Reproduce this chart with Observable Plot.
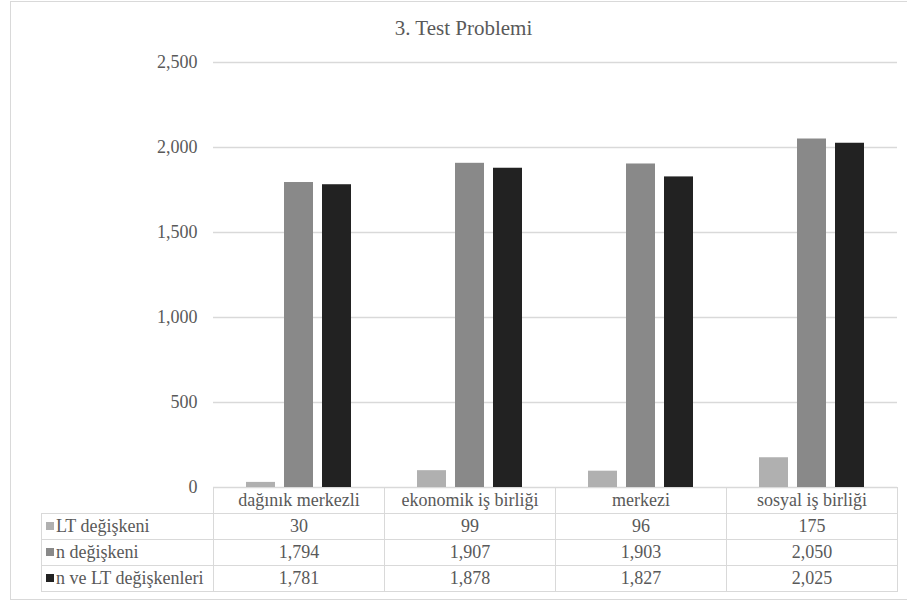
<!DOCTYPE html>
<html>
<head>
<meta charset="utf-8">
<script src="https://cdn.jsdelivr.net/npm/d3@7"></script>
<script src="https://cdn.jsdelivr.net/npm/@observablehq/plot@0.6"></script>
<style>
  html, body { margin: 0; padding: 0; background: #fff; }
  #chart {
    position: relative; width: 907px; height: 603px; overflow: hidden;
    font-family: "Liberation Serif", "Times New Roman", serif; color: #595959;
  }
  #frame {
    position: absolute; left: 10px; top: 1px; width: 920px; height: 599px;
    border: 1.5px solid #d9d9d9; box-sizing: border-box;
  }
  #title {
    position: absolute; left: 10px; width: 907px; top: 14px;
    text-align: center; font-size: 21px; line-height: 28px;
    font-family: "Liberation Serif", "Times New Roman", serif;
  }
  #plot { position: absolute; left: 0; top: 0; }
  #table {
    position: absolute; left: 41px; top: 487px;
    border-collapse: collapse; table-layout: fixed;
    font-size: 18px; color: #595959;
  }
  #table td {
    border: 1.5px solid #d9d9d9; height: 25px; padding: 0;
    text-align: center; white-space: nowrap; line-height: 25px;
    font-family: "Liberation Serif", "Times New Roman", serif;
    font-size: 18px;
  }
  #table td.corner { border: none; }
  #table td.name { text-align: left; padding-left: 4px; }
  .sw { display: inline-block; width: 8px; height: 8px; margin-right: 2px; vertical-align: 2px; }
</style>
</head>
<body>
<div id="chart">
  <div id="frame"></div>
  <div id="title">3. Test Problemi</div>
  <div id="plot"></div>
  <table id="table"></table>
</div>
<script>
// Categories and series of the problem
const categories = ["dağınık merkezli", "ekonomik iş birliği", "merkezi", "sosyal iş birliği"];
const seriesNames = ["LT değişkeni", "n değişkeni", "n ve LT değişkenleri"];
const seriesColors = ["#b0b0b0", "#898989", "#222222"];

// Values per series, in category order
const ltValues = [30, 99, 96, 175];
const nValues = [1794, 1907, 1903, 2050];
const nltValues = [1781, 1878, 1827, 2025];

const yTicks = [0, 500, 1000, 1500, 2000, 2500];

const seriesValues = [ltValues, nValues, nltValues];
const rows = [];
seriesNames.forEach((s, si) => {
  categories.forEach((c, ci) => rows.push({cat: c, series: s, value: seriesValues[si][ci]}));
});

const fmt = d3.format(",");

const chart = Plot.plot({
  width: 907,
  height: 603,
  marginLeft: 213,
  marginRight: 10,
  marginTop: 62,
  marginBottom: 116,
  style: {
    fontFamily: "'Liberation Serif', 'Times New Roman', serif",
    fontSize: "18px",
    color: "#595959",
    background: "transparent"
  },
  fx: {domain: categories, padding: 0, axis: null},
  x: {domain: seriesNames, paddingInner: 0.237, paddingOuter: 0.868, axis: null},
  y: {domain: [0, 2500], ticks: yTicks, label: null},
  color: {domain: seriesNames, range: seriesColors},
  marks: [
    Plot.gridY(yTicks, {stroke: "#d9d9d9", strokeOpacity: 1, strokeWidth: 1.5}),
    Plot.axisY(yTicks, {tickSize: 0, tickPadding: 16, tickFormat: fmt, fill: "#595959", label: null}),
    Plot.barY(rows, {fx: "cat", x: "series", y: "value", fill: "series"})
  ]
});
document.getElementById("plot").appendChild(chart);

// Data table under the plot: header row of categories, one row per series
const table = d3.select("#table");
const colgroup = table.append("colgroup");
colgroup.append("col").style("width", "172px");
categories.forEach(() => colgroup.append("col").style("width", "171px"));

const head = table.append("tr");
head.append("td").attr("class", "corner");
categories.forEach(c => head.append("td").text(c));

seriesNames.forEach((s, si) => {
  const tr = table.append("tr");
  const name = tr.append("td").attr("class", "name");
  name.append("span").attr("class", "sw").style("background", seriesColors[si]);
  name.append("span").text(s);
  seriesValues[si].forEach(v => tr.append("td").text(fmt(v)));
});
</script>
</body>
</html>
